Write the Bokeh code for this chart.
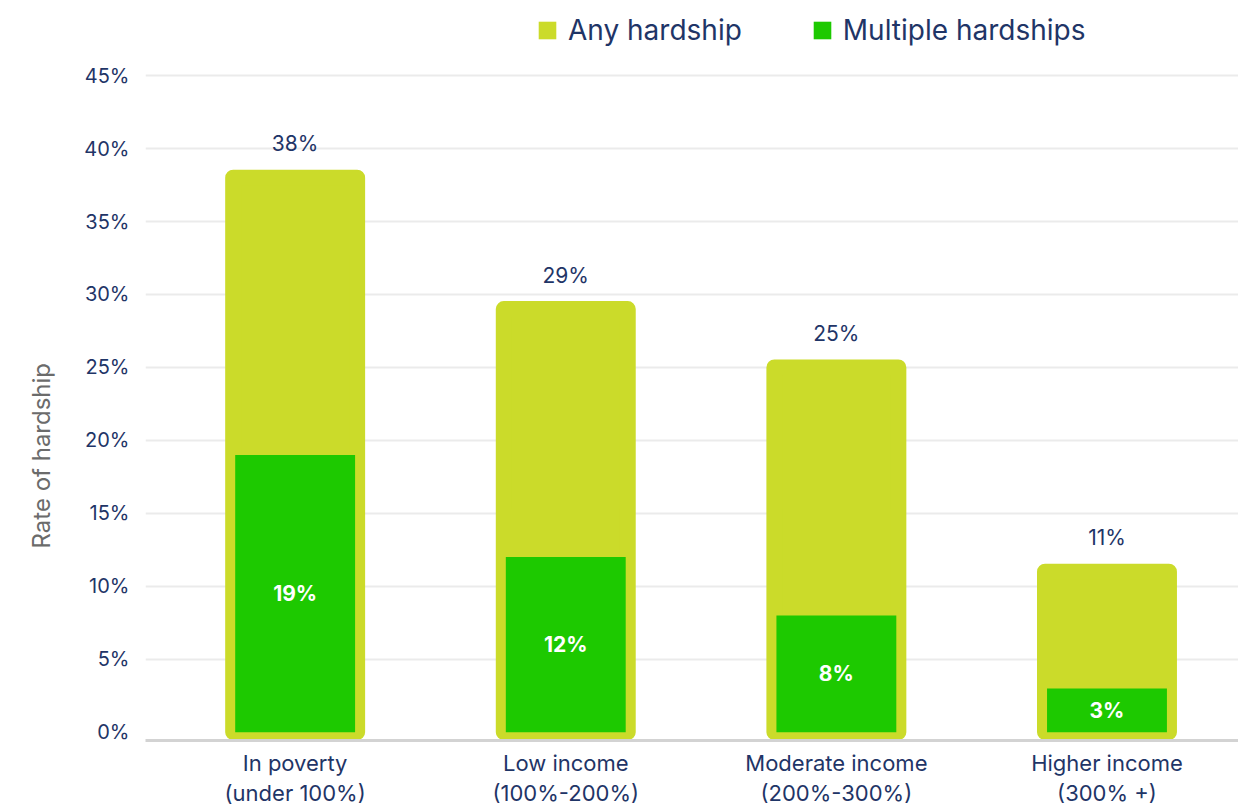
from bokeh.plotting import figure
from bokeh.models import (ColumnDataSource, Range1d, FixedTicker, PrintfTickFormatter,
                          Legend, LegendItem, Title)
from bokeh.core.properties import value
from bokeh.embed import file_html
from bokeh.resources import INLINE

# ---- data ----
categories = ["In poverty\n(under 100%)", "Low income\n(100%-200%)",
              "Moderate income\n(200%-300%)", "Higher income\n(300% +)"]
any_hardship = [38, 29, 25, 11]
multiple_hardships = [19, 12, 8, 3]
y_ticks = [0, 5, 10, 15, 20, 25, 30, 35, 40, 45]

# ---- style ----
FONT = "Inter"
NAVY = "#1f3567"
YELLOW = "#cbdb2a"
GREEN = "#1dc900"
INNER_W = 0.443
OUTER_W = 0.458

xs = list(range(len(categories)))
src = ColumnDataSource(dict(
    x=xs,
    any=any_hardship,
    multi=multiple_hardships,
    half=[m / 2 for m in multiple_hardships],
    any_lbl=[f"{v}%" for v in any_hardship],
    multi_lbl=[f"{v}%" for v in multiple_hardships],
))

p = figure(frame_width=1093, frame_height=740, output_backend="svg", toolbar_location=None,
           x_range=Range1d(-0.553, 3.486), y_range=Range1d(-0.57, 50.15),
           min_border_left=145, min_border_right=0, min_border_top=0, min_border_bottom=64)
p.outline_line_color = None
p.background_fill_color = "white"
p.border_fill_color = "white"

# outer bars: fill + rounded stroke
r_any = p.vbar(x="x", top="any", bottom=0, width=OUTER_W, source=src,
               fill_color=YELLOW, line_color=None)
p.vbar(x="x", top="any", bottom=0, width=OUTER_W, source=src,
       fill_color=None, line_color=YELLOW, line_width=16, line_join="round")
r_multi = p.vbar(x="x", top="multi", bottom=0, width=INNER_W, source=src,
                 fill_color=GREEN, line_color=None)

p.text(x="x", y="any", text="any_lbl", source=src, y_offset=-34,
       text_align="center", text_baseline="middle", text_color=NAVY,
       text_font=value(FONT), text_font_size="21px")
p.text(x="x", y="half", text="multi_lbl", source=src,
       text_align="center", text_baseline="middle", text_color="white",
       text_font=value(FONT), text_font_size="21px", text_font_style="bold")

# axes
p.xaxis.ticker = FixedTicker(ticks=xs)
p.xaxis.major_label_overrides = {i: c for i, c in zip(xs, categories)}
p.xaxis.major_tick_line_color = None
p.xaxis.minor_tick_line_color = None
p.xaxis.axis_line_color = "#d3d3d3"
p.xaxis.axis_line_width = 3
p.xaxis.major_label_text_font = FONT
p.xaxis.major_label_text_font_size = "22px"
p.xaxis.major_label_text_color = NAVY
p.xaxis.major_label_text_line_height = 1.18
p.xaxis.major_label_standoff = 3

p.yaxis.ticker = FixedTicker(ticks=y_ticks)
p.yaxis.formatter = PrintfTickFormatter(format="%d%%")
p.yaxis.major_tick_line_color = None
p.yaxis.minor_tick_line_color = None
p.yaxis.axis_line_color = None
p.yaxis.major_label_text_font = FONT
p.yaxis.major_label_text_font_size = "20px"
p.yaxis.major_label_text_color = NAVY
p.yaxis.major_label_standoff = 10

p.xgrid.grid_line_color = None
p.ygrid.ticker = FixedTicker(ticks=y_ticks[1:])
p.ygrid.grid_line_color = "#ebebeb"
p.ygrid.grid_line_width = 2

p.add_layout(Title(text="Rate of hardship", align="left", offset=192,
                   vertical_align="top", standoff=48,
                   text_font=FONT, text_font_size="24px", text_font_style="normal",
                   text_color="#6b6b6b"), "left")

legend = Legend(items=[LegendItem(label="Any hardship", renderers=[r_any]),
                       LegendItem(label="Multiple hardships", renderers=[r_multi])],
                orientation="horizontal", location=(391, 693),
                glyph_width=22, glyph_height=22, label_standoff=10, spacing=69,
                padding=0, margin=0, border_line_color=None, background_fill_alpha=0,
                label_text_font=FONT, label_text_font_size="28px", label_text_color=NAVY,
                label_height=22)
p.add_layout(legend)

open("out.html", "w").write(file_html(p, INLINE))
